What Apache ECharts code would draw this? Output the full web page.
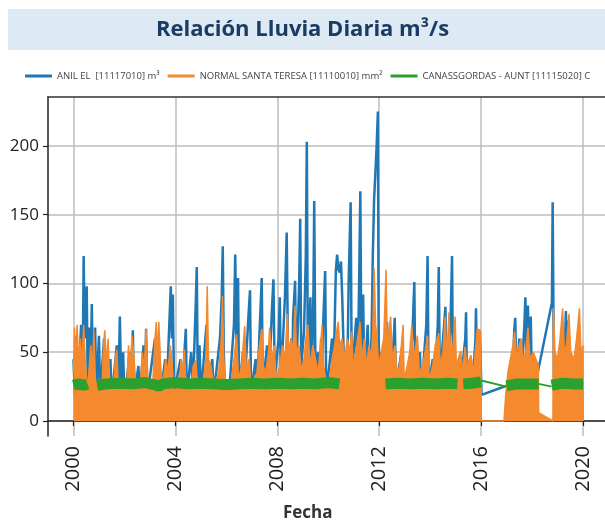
<!DOCTYPE html>
<html>
<head>
<meta charset="utf-8">
<script src="https://cdn.jsdelivr.net/npm/echarts@6/dist/echarts.min.js"></script>
<style>
  html, body { margin: 0; padding: 0; background: #fff; }
  #chart { width: 605px; height: 527px; }
</style>
</head>
<body>
<div id="chart"></div>
<script>
// decimal year, value
const yearTicks = [2000, 2004, 2008, 2012, 2016, 2020];
const valueTicks = [0, 50, 100, 150, 200];
const seriesNames = [
  "ANIL EL  [11117010] m³",
  "NORMAL SANTA TERESA [11110010] mm²",
  "CANASSGORDAS - AUNT [11115020] C",
];

const anil = [
  [2000.00, 45], [2000.06, 18], [2000.12, 62], [2000.18, 20], [2000.30, 70], [2000.36, 30],
  [2000.40, 120], [2000.44, 60], [2000.52, 98], [2000.56, 25], [2000.62, 68], [2000.66, 20],
  [2000.72, 85], [2000.76, 25], [2000.85, 68], [2000.90, 18], [2001.00, 62], [2001.05, 18],
  [2001.20, 60], [2001.26, 18], [2001.45, 45], [2001.50, 16], [2001.70, 55], [2001.76, 20],
  [2001.82, 76], [2001.88, 20], [2001.95, 50], [2002.00, 16], [2002.22, 50], [2002.28, 18],
  [2002.33, 66], [2002.38, 18], [2002.55, 40], [2002.60, 16], [2002.75, 55], [2002.80, 20],
  [2002.85, 67], [2002.90, 18], [2003.20, 60], [2003.25, 18], [2003.35, 58], [2003.40, 16],
  [2003.60, 45], [2003.65, 18], [2003.82, 98], [2003.86, 60], [2003.90, 92], [2003.95, 20],
  [2004.20, 45], [2004.25, 16], [2004.41, 67], [2004.45, 18], [2004.62, 50], [2004.68, 18],
  [2004.80, 85], [2004.84, 112], [2004.88, 25], [2004.95, 55], [2005.00, 18], [2005.22, 70],
  [2005.27, 20], [2005.45, 45], [2005.50, 18], [2005.75, 60], [2005.82, 90], [2005.86, 127],
  [2005.90, 50], [2005.95, 20], [2006.10, 18], [2006.30, 70], [2006.35, 121], [2006.40, 50],
  [2006.46, 104], [2006.50, 20], [2006.65, 50], [2006.70, 18], [2006.88, 80], [2006.93, 95],
  [2006.97, 20], [2007.15, 45], [2007.20, 18], [2007.35, 85], [2007.39, 104], [2007.43, 25],
  [2007.60, 55], [2007.65, 18], [2007.80, 85], [2007.85, 103], [2007.90, 30], [2008.05, 60],
  [2008.10, 90], [2008.14, 25], [2008.30, 90], [2008.37, 137], [2008.42, 50], [2008.48, 20],
  [2008.55, 60], [2008.59, 25], [2008.62, 75], [2008.70, 102], [2008.74, 30], [2008.86, 100],
  [2008.90, 147], [2008.94, 40], [2009.05, 65], [2009.12, 120], [2009.16, 203], [2009.20, 40],
  [2009.30, 90], [2009.35, 20], [2009.42, 95], [2009.45, 160], [2009.50, 30], [2009.60, 50],
  [2009.65, 18], [2009.72, 60], [2009.76, 25], [2009.80, 70], [2009.88, 109], [2009.92, 25],
  [2010.02, 36], [2010.15, 60], [2010.20, 25], [2010.30, 110], [2010.35, 121], [2010.40, 110],
  [2010.45, 108], [2010.50, 116], [2010.55, 90], [2010.62, 40], [2010.70, 50], [2010.74, 20],
  [2010.80, 100], [2010.88, 159], [2010.92, 40], [2011.00, 50], [2011.10, 75], [2011.15, 25],
  [2011.22, 110], [2011.26, 167], [2011.30, 50], [2011.37, 92], [2011.42, 25], [2011.55, 70],
  [2011.60, 30], [2011.70, 60], [2011.75, 120], [2011.80, 161], [2011.85, 180], [2011.90, 200],
  [2011.95, 225], [2011.98, 60], [2012.02, 30], [2012.10, 50], [2012.20, 25], [2012.31, 72],
  [2012.36, 30], [2012.45, 65], [2012.50, 30], [2012.61, 75], [2012.66, 25], [2012.90, 53],
  [2012.95, 18], [2013.20, 45], [2013.30, 60], [2013.38, 101], [2013.42, 25], [2013.60, 50],
  [2013.65, 20], [2013.85, 70], [2013.90, 120], [2013.94, 25], [2014.10, 45], [2014.15, 18],
  [2014.30, 70], [2014.34, 112], [2014.38, 30], [2014.55, 70], [2014.60, 83], [2014.65, 25],
  [2014.80, 70], [2014.86, 120], [2014.90, 25], [2015.10, 40], [2015.15, 18], [2015.38, 60],
  [2015.41, 79], [2015.45, 20], [2015.60, 45], [2015.65, 18], [2015.78, 60], [2015.80, 82],
  [2015.85, 25], [2015.95, 65], [2016.02, 19], [2017.05, 26], [2017.15, 40], [2017.20, 10],
  [2017.30, 65], [2017.34, 75], [2017.40, 25], [2017.50, 60], [2017.55, 20], [2017.70, 70],
  [2017.74, 90], [2017.78, 40], [2017.84, 84], [2017.88, 30], [2017.95, 76], [2018.00, 20],
  [2018.20, 33], [2018.78, 86], [2018.81, 159], [2018.86, 30], [2019.00, 8], [2019.10, 40],
  [2019.20, 70], [2019.25, 30], [2019.33, 80], [2019.37, 40], [2019.40, 73], [2019.45, 20],
  [2019.60, 45], [2019.70, 18], [2019.85, 50], [2019.90, 20], [2020.00, 28],
];

const santaTeresa = [
  [2000.00, 35], [2000.04, 68], [2000.09, 40], [2000.14, 70], [2000.20, 45], [2000.27, 60],
  [2000.33, 42], [2000.40, 70], [2000.47, 40], [2000.55, 22], [2000.62, 40], [2000.68, 55],
  [2000.74, 35], [2000.80, 66], [2000.86, 30], [2000.95, 22], [2001.12, 25], [2001.18, 55],
  [2001.23, 66], [2001.30, 40], [2001.36, 60], [2001.43, 25], [2001.58, 22], [2001.64, 45],
  [2001.70, 52], [2001.76, 25], [2001.90, 22], [2002.10, 30], [2002.16, 55], [2002.22, 40],
  [2002.30, 62], [2002.38, 45], [2002.45, 25], [2002.62, 22], [2002.70, 50], [2002.78, 38],
  [2002.85, 67], [2002.92, 30], [2003.10, 22], [2003.20, 60], [2003.25, 72], [2003.30, 45],
  [2003.35, 72], [2003.42, 40], [2003.50, 25], [2003.62, 45], [2003.70, 35], [2003.80, 55],
  [2003.88, 40], [2003.95, 22], [2004.15, 25], [2004.22, 45], [2004.30, 35], [2004.35, 52],
  [2004.42, 25], [2004.60, 22], [2004.70, 40], [2004.80, 44], [2004.86, 30], [2004.95, 22],
  [2005.10, 30], [2005.20, 45], [2005.25, 98], [2005.30, 45], [2005.40, 40], [2005.50, 25],
  [2005.70, 35], [2005.80, 60], [2005.85, 91], [2005.90, 45], [2005.97, 25], [2006.20, 30],
  [2006.30, 45], [2006.40, 63], [2006.48, 30], [2006.60, 40], [2006.72, 69], [2006.78, 40],
  [2006.90, 45], [2006.97, 25], [2007.20, 35], [2007.30, 55], [2007.40, 67], [2007.45, 40],
  [2007.55, 35], [2007.65, 50], [2007.70, 68], [2007.78, 45], [2007.88, 55], [2007.95, 30],
  [2008.10, 40], [2008.20, 55], [2008.30, 45], [2008.40, 78], [2008.45, 50], [2008.55, 60],
  [2008.62, 50], [2008.70, 84], [2008.75, 50], [2008.85, 55], [2008.95, 35], [2009.05, 45],
  [2009.12, 60], [2009.20, 70], [2009.28, 40], [2009.40, 55], [2009.50, 45], [2009.60, 35],
  [2009.70, 55], [2009.76, 70], [2009.82, 40], [2009.95, 25], [2010.05, 30], [2010.15, 45],
  [2010.25, 55], [2010.33, 65], [2010.39, 72], [2010.45, 55], [2010.55, 60], [2010.65, 45],
  [2010.75, 60], [2010.85, 50], [2010.92, 65], [2010.98, 40], [2011.08, 50], [2011.15, 60],
  [2011.25, 72], [2011.32, 45], [2011.42, 60], [2011.50, 40], [2011.60, 55], [2011.68, 45],
  [2011.75, 65], [2011.80, 111], [2011.86, 70], [2011.92, 60], [2011.98, 40], [2012.08, 50],
  [2012.18, 60], [2012.27, 110], [2012.32, 55], [2012.45, 76], [2012.52, 45], [2012.62, 55],
  [2012.70, 35], [2012.80, 40], [2012.94, 70], [2012.98, 30], [2013.10, 40], [2013.20, 50],
  [2013.28, 70], [2013.35, 45], [2013.50, 62], [2013.58, 35], [2013.70, 40], [2013.80, 50],
  [2013.90, 62], [2013.96, 30], [2014.10, 40], [2014.20, 55], [2014.34, 64], [2014.40, 40],
  [2014.50, 50], [2014.59, 76], [2014.66, 45], [2014.74, 79], [2014.80, 50], [2014.90, 55],
  [2014.98, 76], [2015.03, 40], [2015.10, 45], [2015.20, 51], [2015.28, 35], [2015.37, 54],
  [2015.45, 40], [2015.60, 48], [2015.70, 35], [2015.85, 67], [2015.96, 66], [2016.00, 30],
  [2016.01, 0], [2016.90, 0], [2016.97, 20], [2017.05, 35], [2017.15, 45], [2017.25, 55],
  [2017.32, 65], [2017.40, 45], [2017.50, 55], [2017.57, 60], [2017.65, 45], [2017.75, 50],
  [2017.84, 68], [2017.92, 45], [2018.05, 50], [2018.15, 45], [2018.25, 40], [2018.26, 6],
  [2018.82, 0], [2018.84, 82], [2018.90, 50], [2019.00, 45], [2019.10, 60], [2019.20, 82],
  [2019.27, 50], [2019.35, 55], [2019.45, 78], [2019.52, 50], [2019.65, 45], [2019.75, 60],
  [2019.86, 82], [2019.92, 50], [2020.00, 55], [2020.01, 0],
];

// null = missing stretch (line broken)
const canasBand = [
  [2000.00, 26], [2000.20, 27], [2000.40, 26], [2000.55, 27], [2000.75, null],
  [2000.94, 26], [2001.30, 27], [2001.80, 27.5], [2002.30, 27], [2002.80, 28], [2003.25, 26],
  [2003.35, 25], [2003.50, 27], [2004.00, 28], [2004.50, 27], [2005.00, 27.5], [2005.50, 27],
  [2006.00, 26.5], [2006.50, 27], [2007.00, 27.5], [2007.50, 27], [2008.00, 27.5], [2008.50, 27],
  [2009.00, 27.5], [2009.50, 27], [2010.00, 28], [2010.44, 27], [2011.30, null],
  [2012.25, 27], [2012.70, 27.5], [2013.20, 27], [2013.70, 27.5], [2014.20, 27], [2014.70, 27.5],
  [2015.07, 27], [2015.20, null], [2015.30, 27], [2015.65, 27.5], [2016.00, 28.5], [2016.50, null],
  [2017.00, 25.5], [2017.40, 27], [2017.80, 27], [2018.26, 27], [2018.50, null],
  [2018.77, 26], [2019.20, 27.5], [2019.60, 27], [2020.00, 27],
];
const canasLinks = [
  [2016.00, 29.5], [2017.00, 25], [2017.50, null], [2018.26, 27], [2018.77, 25],
];

const BLUE = "#1f77b4";
const ORANGE = "#f4892e";
const GREEN = "#2ca02c";
const FONT = "Open Sans";
const X_MIN = 1999.0;
const X_MAX = 2021.1;

const chart = echarts.init(document.getElementById("chart"));

const options = {
  animation: false,
  title: {
    text: "Relación Lluvia Diaria m³/s",
    left: "center",
    top: 14,
    textStyle: { fontFamily: FONT, fontSize: 22, fontWeight: "bold", color: "#1a3b63" },
  },
  graphic: [
    {
      type: "rect",
      z: -10,
      shape: { x: 8, y: 9, width: 600, height: 41 },
      style: { fill: "#dde9f3" },
    },
    {
      type: "text",
      left: 283,
      top: 505,
      style: { text: "Fecha", fontFamily: FONT, fontSize: 17, fontWeight: "bold", fill: "#333" },
    },
  ],
  legend: {
    data: seriesNames,
    left: 20,
    top: 66,
    icon: "rect",
    itemWidth: 27,
    itemHeight: 3,
    itemGap: 8,
    textStyle: { fontFamily: FONT, fontSize: 9.5, color: "#444" },
  },
  grid: {
    left: 48,
    right: -6,
    top: 97,
    bottom: 91,
    containLabel: false,
    outerBoundsMode: "none",
  },
  xAxis: [
    {
      type: "value",
      min: X_MIN,
      max: X_MAX,
      axisLine: { lineStyle: { color: "#222", width: 1.5 } },
      axisTick: { customValues: yearTicks, length: 5, lineStyle: { color: "#222", width: 1.2 } },
      axisLabel: {
        customValues: yearTicks,
        formatter: (v) => String(Math.round(v)),
        rotate: 90,
        margin: 10,
        fontFamily: FONT,
        fontSize: 20,
        color: "#222",
      },
      splitLine: { show: true, lineStyle: { color: "#bcbcbc", width: 1.5 } },
    },
    {
      // top frame line only
      type: "value",
      position: "top",
      min: X_MIN,
      max: X_MAX,
      axisLine: { show: true, onZero: false, lineStyle: { color: "#333", width: 1.5 } },
      axisTick: { show: false },
      axisLabel: { show: false },
      splitLine: { show: false },
    },
  ],
  yAxis: {
    type: "value",
    min: -10.9,
    max: 235.6,
    axisLine: { show: true, onZero: false, lineStyle: { color: "#222", width: 1.5 } },
    axisTick: { show: true, customValues: valueTicks, length: 5, lineStyle: { color: "#222", width: 1.2 } },
    axisLabel: {
      customValues: valueTicks,
      margin: 9,
      fontFamily: FONT,
      fontSize: 17,
      color: "#222",
    },
    splitLine: { show: true, lineStyle: { color: "#bcbcbc", width: 1.5 } },
  },
  series: [
    {
      name: seriesNames[0],
      type: "line",
      z: 2,
      data: anil,
      color: BLUE,
      showSymbol: false,
      lineStyle: { width: 2.5, color: BLUE },
    },
    {
      name: seriesNames[1],
      type: "line",
      z: 3,
      data: santaTeresa,
      color: ORANGE,
      showSymbol: false,
      lineStyle: { width: 1.5, color: ORANGE },
      areaStyle: { color: ORANGE, opacity: 1, origin: 0 },
    },
    {
      name: seriesNames[2],
      type: "line",
      z: 4,
      data: canasBand,
      color: GREEN,
      showSymbol: false,
      connectNulls: false,
      lineStyle: { width: 11, color: GREEN, cap: "butt" },
    },
    {
      name: seriesNames[2],
      type: "line",
      z: 4,
      data: canasLinks,
      color: GREEN,
      showSymbol: false,
      connectNulls: false,
      lineStyle: { width: 2, color: GREEN },
    },
  ],
};

chart.setOption(options);
</script>
</body>
</html>
